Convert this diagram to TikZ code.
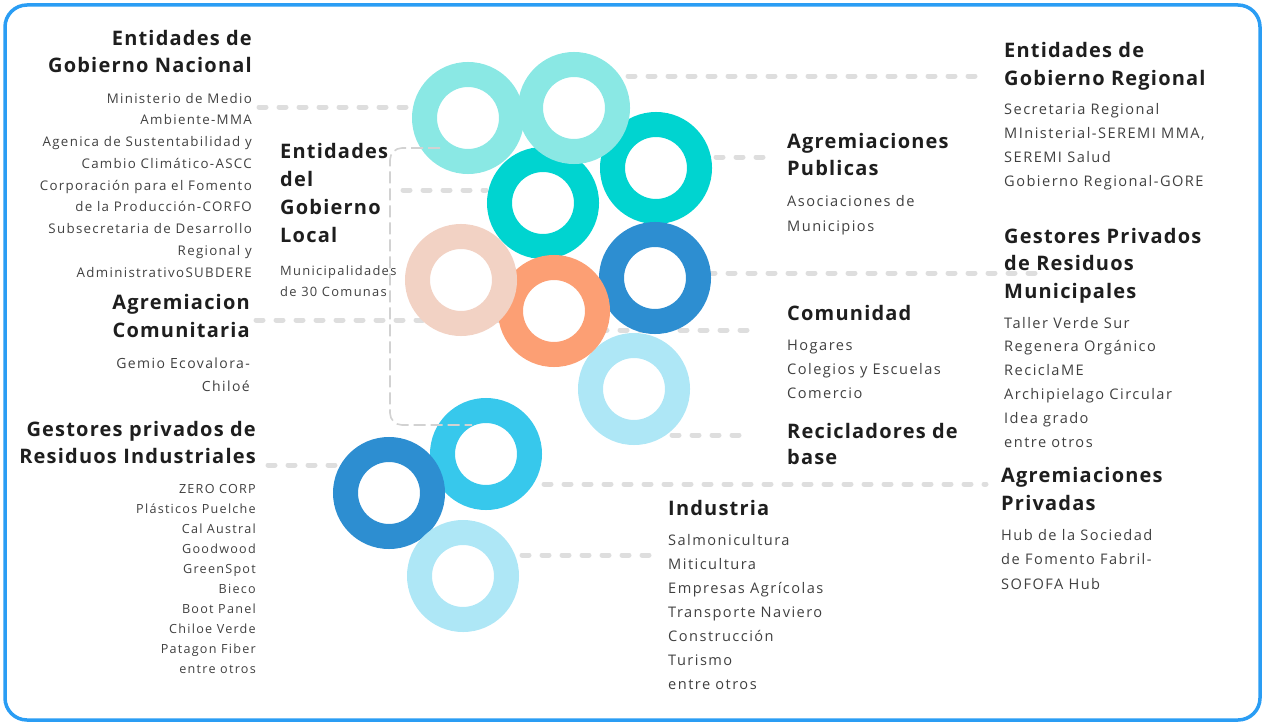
\documentclass[tikz,border=0pt]{standalone}
\usepackage{fontspec}
\setmainfont{Open Sans}
\newfontfamily\headfont[LetterSpace=6]{Open Sans}
\newfontfamily\bodyfont[LetterSpace=10]{Open Sans}
\definecolor{borderc}{HTML}{2A9DF4}
\definecolor{headc}{HTML}{1E1E1E}
\definecolor{bodyc}{HTML}{404040}
\definecolor{linec}{HTML}{DEDEDE}
\definecolor{boxc}{HTML}{D2D2D2}
\definecolor{ltealc}{HTML}{8AE8E4}
\definecolor{tealc}{HTML}{00D4D0}
\definecolor{peachc}{HTML}{F2D2C4}
\definecolor{orangec}{HTML}{FC9F74}
\definecolor{bluec}{HTML}{2D8ED1}
\definecolor{lbluec}{HTML}{AEE7F6}
\definecolor{skyc}{HTML}{37C8EC}
\begin{document}
\begin{tikzpicture}[x=1pt,y=-1pt,
  head/.style={font=\headfont\bfseries\fontsize{20}{#1}\selectfont, text=headc, inner sep=0},
  head/.default=28,
  body/.style={font=\bodyfont\fontsize{14.6}{#1}\selectfont, text=bodyc, inner sep=0},
  body/.default=22,
  lbody/.style={font=\bodyfont\fontsize{13.3}{#1}\selectfont, text=bodyc, inner sep=0},
  lbody/.default=22,
  small/.style={font=\bodyfont\fontsize{12.6}{#1}\selectfont, text=bodyc, inner sep=0},
  small/.default=20,
  link/.style={draw=linec, line width=5, dash pattern=on 7 off 13, line cap=round},
  ring/.style={circle, draw=#1, line width=25, minimum size=87, inner sep=0},
  bracket/.style={draw=boxc, line width=1.6, dash pattern=on 12 off 5, rounded corners=12}]
\useasboundingbox (0,0) rectangle (1265,725);
\draw[borderc, line width=3.5, rounded corners=22] (5,5) rectangle (1260,720);

% ---------- left column (anchors at last-line baselines) ----------
\node[head, anchor=base east, align=right] (nacH) at (252,73) {Entidades de\\Gobierno Nacional};
\node[lbody=21.75, anchor=base east, align=right] (nacB) at (252,277)
  {Ministerio de Medio\\Ambiente-MMA\\Agenica de Sustentabilidad y\\Cambio Climático-ASCC\\Corporación para el Fomento\\de la Producción-CORFO\\Subsecretaria de Desarrollo\\Regional y\\AdministrativoSUBDERE};
\node[head, anchor=base east, align=right] (comH) at (250,337) {Agremiacion\\Comunitaria};
\node[lbody=23, anchor=base east, align=right, font=\bodyfont\fontsize{14}{23}\selectfont] (comB) at (250,391) {Gemio Ecovalora-\\Chiloé};
\node[head=27, anchor=base east, align=right] (indH) at (256,463) {Gestores privados de\\Residuos Industriales};
\node[small, anchor=base east, align=right] (indB) at (256,673)
  {ZERO CORP\\Plásticos Puelche\\Cal Austral\\Goodwood\\GreenSpot\\Bieco\\Boot Panel\\Chiloe Verde\\Patagon Fiber\\entre otros};

% ---------- local government ----------
\node[head=27.7, anchor=base west, align=left] (locH) at (280,242) {Entidades\\del\\Gobierno\\Local};
\node[small=21, anchor=base west, align=left, font=\bodyfont\fontsize{12.9}{21}\selectfont] (locB) at (280,296) {Municipalidades\\de 30 Comunas};

% ---------- middle right column ----------
\node[head=27, anchor=base west, align=left] (pubH) at (787,175) {Agremiaciones\\Publicas};
\node[body=25, anchor=base west, align=left] (pubB) at (787,231) {Asociaciones de\\Municipios};
\node[head, anchor=base west] (cmdH) at (787,320) {Comunidad};
\node[body=24, anchor=base west, align=left] (cmdB) at (787,398) {Hogares\\Colegios y Escuelas\\Comercio};
\node[head=26, anchor=base west, align=left] (recH) at (787,464) {Recicladores de\\base};
\node[head, anchor=base west] (idsH) at (668,515) {Industria};
\node[body=24, anchor=base west, align=left] (idsB) at (668,689)
  {Salmonicultura\\Miticultura\\Empresas Agrícolas\\Transporte Naviero\\Construcción\\Turismo\\entre otros};

% ---------- right column ----------
\node[head, anchor=base west, align=left] (regH) at (1004,85) {Entidades de\\Gobierno Regional};
\node[body=23.7, anchor=base west, align=left] (regB) at (1004,186)
  {Secretaria Regional\\MInisterial-SEREMI MMA,\\SEREMI Salud\\Gobierno Regional-GORE};
\node[head=27.5, anchor=base west, align=left] (munH) at (1004,298) {Gestores Privados\\de Residuos\\Municipales};
\node[body=23.8, anchor=base west, align=left] (munB) at (1004,447)
  {Taller Verde Sur\\Regenera Orgánico\\ReciclaME\\Archipielago Circular\\Idea grado\\entre otros};
\node[head, anchor=base west, align=left] (priH) at (1001,510) {Agremiaciones\\Privadas};
\node[body=24.5, anchor=base west, align=left] (priB) at (1001,589)
  {Hub de la Sociedad\\de Fomento Fabril-\\SOFOFA Hub};

% ---------- dashed connectors (behind rings) ----------
\coordinate (l1a) at (259,107);  \coordinate (l1b) at (412,107);
\coordinate (l2a) at (628,76);   \coordinate (l2b) at (980,76);
\coordinate (l3a) at (716,157);  \coordinate (l3b) at (767,157);
\coordinate (l4a) at (403,190);  \coordinate (l4b) at (486,190);
\coordinate (l5a) at (708,273);  \coordinate (l5b) at (1036,273);
\coordinate (l6a) at (256,320);  \coordinate (l6b) at (500,320);
\coordinate (l7a) at (600,330);  \coordinate (l7b) at (760,330);
\coordinate (l8a) at (672,435);  \coordinate (l8b) at (742,435);
\coordinate (l9a) at (268,465);  \coordinate (l9b) at (340,465);
\coordinate (l10a) at (544,484); \coordinate (l10b) at (986,484);
\coordinate (l11a) at (522,555); \coordinate (l11b) at (654,555);
\foreach \i in {1,...,11} { \path[link] (l\i a) -- (l\i b); }

% ---------- rings ----------
\node[ring=tealc]   (r3)  at (656,168) {};
\node[ring=tealc]   (r4)  at (543,203) {};
\node[ring=ltealc]  (r1)  at (468,118) {};
\node[ring=ltealc]  (r2)  at (574,108) {};
\node[ring=bluec]   (r7)  at (655,278) {};
\node[ring=lbluec]  (r8)  at (634,389) {};
\node[ring=orangec] (r6)  at (554,311) {};
\node[ring=peachc]  (r5)  at (461,280) {};
\node[ring=skyc]    (r9)  at (486,454) {};
\node[ring=bluec]   (r10) at (389,493) {};
\node[ring=lbluec]  (r11) at (463,576) {};

% ---------- bracket of local government ----------
\coordinate (bt) at (440,148);
\coordinate (bb) at (472,425);
\path[bracket] (bt) -- (390,148) -- (390,425) -- (bb);
\end{tikzpicture}
\end{document}
